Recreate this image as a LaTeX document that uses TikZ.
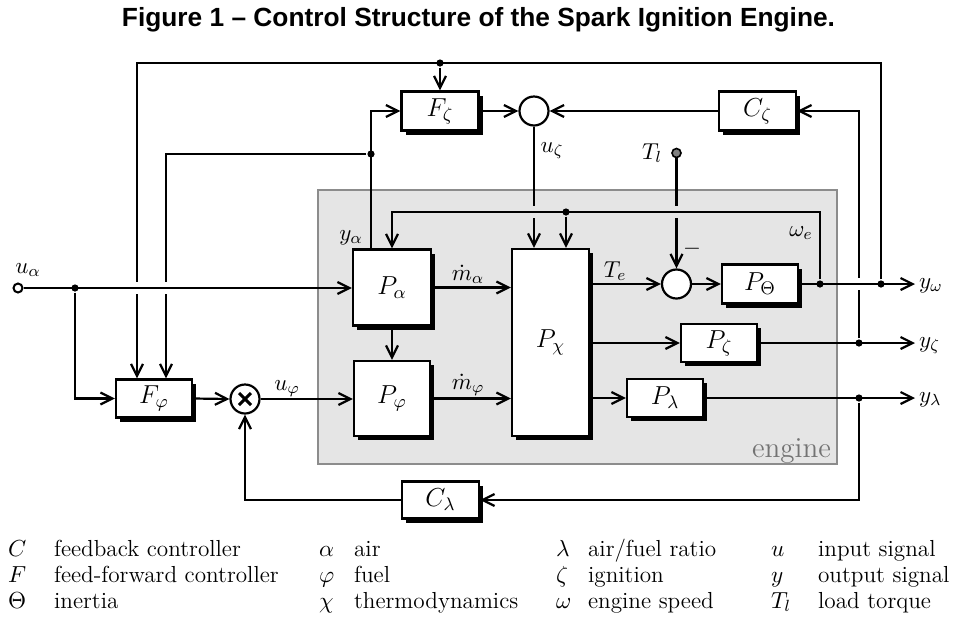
\RequirePackage{fix-cm}
\documentclass[tikz,border=0pt]{standalone}
\usepackage{fontspec}
\newfontfamily\titlefont{Liberation Sans}
\usetikzlibrary{arrows.meta,shadows,calc}
\newcommand\blkfont{\fontsize{13}{15}\selectfont}
\newcommand\sigfont{\fontsize{11.5}{13}\selectfont}
\newcommand\legfont{\fontsize{11.6}{13}\selectfont}
\begin{document}
\begin{tikzpicture}[x=0.5pt,y=-0.5pt,line width=1.1pt,
  blk/.style={draw,fill=white,line width=1.1pt,inner sep=0pt,font=\blkfont,
    drop shadow={shadow xshift=2pt,shadow yshift=-2pt,fill=black,opacity=1}},
  sumnode/.style={circle,draw,fill=white,line width=1.1pt,minimum size=14.5pt,inner sep=0pt},
  dot/.style={circle,fill=black,minimum size=3.6pt,inner sep=0pt},
  arr/.style={-{Straight Barb[length=6pt,width=6pt]}},
  sig/.style={font=\sigfont,inner sep=0pt},
  leg/.style={font=\legfont,inner sep=0pt,anchor=base west},
  outl/.style={font=\sigfont,inner ysep=0pt,inner xsep=1.5pt,anchor=base west}]
\useasboundingbox (0,0) rectangle (955,617);

% title
\node[font=\titlefont\bfseries\fontsize{13.15}{15}\selectfont,inner sep=0pt] (title) at (478.5,20)
  {Figure 1 – Control Structure of the Spark Ignition Engine.};

% engine area
\node[draw=black!45,fill=black!10,line width=1pt,minimum width=259.5pt,minimum height=137pt,inner sep=0pt] (eng) at (577.5,327) {};
\node[font=\fontsize{14.5}{16}\selectfont,text=black!55,inner sep=0pt,anchor=base east] (englab) at (832,457) {engine};

% blocks
\node[blk,minimum width=38.5pt,minimum height=19.5pt] (Fz) at (440,111) {$F_\zeta$};
\node[blk,minimum width=38.5pt,minimum height=19.5pt] (Cz) at (757.5,111) {$C_\zeta$};
\node[blk,minimum width=38pt,minimum height=19pt] (Fphi) at (154,398.5) {$F_\varphi$};
\node[blk,minimum width=38.5pt,minimum height=18.5pt] (Clam) at (440.5,500) {$C_\lambda$};
\node[blk,minimum width=39pt,minimum height=38pt] (Pa) at (392,287.5) {$P_\alpha$};
\node[blk,minimum width=38pt,minimum height=37.5pt] (Pphi) at (392,398.5) {$P_\varphi$};
\node[blk,minimum width=38.5pt,minimum height=93.5pt] (Pchi) at (550.5,342.5) {$P_\chi$};
\node[blk,minimum width=38pt,minimum height=19.5pt] (PTh) at (760,284) {$P_\Theta$};
\node[blk,minimum width=38pt,minimum height=19pt] (Pz) at (719,343) {$P_\zeta$};
\node[blk,minimum width=38pt,minimum height=19pt] (Plam) at (665,398) {$P_\lambda$};

% junctions
\node[sumnode] (S1) at (534,111) {};
\node[sumnode] (S2) at (676.5,284) {};
\node[sumnode,path picture={
   \draw[line width=1.5pt] ([shift={(-3pt,-3pt)}]path picture bounding box.center) -- ([shift={(3pt,3pt)}]path picture bounding box.center);
   \draw[line width=1.5pt] ([shift={(-3pt,3pt)}]path picture bounding box.center) -- ([shift={(3pt,-3pt)}]path picture bounding box.center);}] (M) at (245,399) {};

% dots and terminals
\node[dot] (d1) at (75,288) {};
\node[dot] (dtop) at (440,63) {};
\node[dot] (dya) at (371,154) {};
\node[dot] (dw) at (820,284) {};
\node[dot] (dout) at (881,284) {};
\node[dot] (dw2) at (566,212) {};
\node[dot] (dz) at (859,343) {};
\node[dot] (dl) at (859,398) {};
\node[circle,draw,fill=white,line width=1pt,minimum size=4.5pt,inner sep=0pt] (ua) at (18,288) {};
\node[circle,draw,fill=black!50,line width=0.8pt,minimum size=4.5pt,inner sep=0pt] (Tl) at (676.5,153) {};
\coordinate (tr) at (881,63);
\coordinate (tl) at (137,63);
\coordinate (k) at (166,154);
\coordinate (w1) at (820,212);

% output labels
\node[outl] (yw) at (915,288) {$y_\omega$};
\node[outl] (yz) at (915,347) {$y_\zeta$};
\node[outl] (yl) at (915,402) {$y_\lambda$};

% connectors (verticals first)
\draw[arr] (d1) |- (Fphi.west);
\draw[arr] (dout) -- (tr) -- (tl) -- (tl |- Fphi.north);
\draw[arr] (dtop) -- (Fz.north);
\draw[arr] (Pa.north -| dya) |- (Fz.west);
\draw[arr] (dya) -- (k) -- (k |- Fphi.north);
\draw[arr] (Fphi.east) -- (M.west);
\draw[arr] (M.east) -- (Pphi.west |- M.east);
\draw[arr] (Pa.south) -- (Pphi.north);
\draw[arr] (Pa.east) -- (Pchi.west |- Pa.east);
\draw[arr] (Pphi.east) -- (Pchi.west |- Pphi.east);
\draw[arr] (Fz.east) -- (S1.west);
\draw[arr] (Cz.west) -- (S1.east);
\draw[arr] (S1.south) -- (Pchi.north -| S1.south);
\draw[arr] (dw2) -- (Pchi.north -| dw2);
\draw[arr] (Pchi.east |- S2.west) -- (S2.west);
\draw[arr] (Tl) -- (S2.north);
\draw[arr] (S2.east) -- (PTh.west);
\draw[arr] (Pchi.east |- Pz.west) -- (Pz.west);
\draw[arr] (Pchi.east |- Plam.west) -- (Plam.west);
\draw[arr] (Pz.east) -- (Pz.east -| yz.west);
\draw[arr] (Plam.east) -- (Plam.east -| yl.west);
\draw[arr] (dz) |- (Cz.east);
\draw[arr] (dl) |- (Clam.east);
\draw[arr] (Clam.west) -| (M.south);

% crossing gaps
\fill[white] (134,282) rectangle (140,294);
\fill[white] (163,282) rectangle (169,294);
\fill[white] (856,278) rectangle (862,290);
\fill[black!10] (531,206) rectangle (537,218);
\fill[black!10] (673.5,206) rectangle (679.5,218);

% horizontals drawn over the gaps
\draw[arr] (ua) -- (Pa.west |- ua);
\draw[arr] (PTh.east) -- (PTh.east -| yw.west);
\draw[arr] (dw) -- (w1) -- (w1 -| Pa.north) -- (Pa.north);

% signal labels
\node[sig,anchor=base] (lua) at (28,273) {$u_\alpha$};
\node[sig,anchor=base] (lya) at (351,240) {$y_\alpha$};
\node[sig,anchor=base] (luphi) at (287,390) {$u_\varphi$};
\node[sig,anchor=base] (lma) at (468,280) {$\dot{m}_\alpha$};
\node[sig,anchor=base] (lmphi) at (468,389) {$\dot{m}_\varphi$};
\node[sig,anchor=base] (luz) at (552,152) {$u_\zeta$};
\node[sig,anchor=base] (lTl) at (652,159) {$T_l$};
\node[sig,anchor=base] (lTe) at (615,277) {$T_e$};
\node[sig,anchor=base] (lwe) at (801,236) {$\omega_e$};
\node[sig] (lminus) at (692,249) {$-$};

% legend
\node[leg] (a1) at (7,556) {$C$};
\node[leg] (a2) at (53,556) {feedback controller};
\node[leg] (b1) at (7,582) {$F$};
\node[leg] (b2) at (53,582) {feed-forward controller};
\node[leg] (c1) at (7,608) {$\Theta$};
\node[leg] (c2) at (53,608) {inertia};
\node[leg] (a3) at (318,556) {$\alpha$};
\node[leg] (a4) at (353,556) {air};
\node[leg] (b3) at (318,582) {$\varphi$};
\node[leg] (b4) at (353,582) {fuel};
\node[leg] (c3) at (318,608) {$\chi$};
\node[leg] (c4) at (353,608) {thermodynamics};
\node[leg] (a5) at (555,556) {$\lambda$};
\node[leg] (a6) at (587,556) {air/fuel ratio};
\node[leg] (b5) at (555,582) {$\zeta$};
\node[leg] (b6) at (587,582) {ignition};
\node[leg] (c5) at (555,608) {$\omega$};
\node[leg] (c6) at (587,608) {engine speed};
\node[leg] (a7) at (770,556) {$u$};
\node[leg] (a8) at (817,556) {input signal};
\node[leg] (b7) at (770,582) {$y$};
\node[leg] (b8) at (817,582) {output signal};
\node[leg] (c7) at (770,608) {$T_l$};
\node[leg] (c8) at (817,608) {load torque};
\end{tikzpicture}
\end{document}
